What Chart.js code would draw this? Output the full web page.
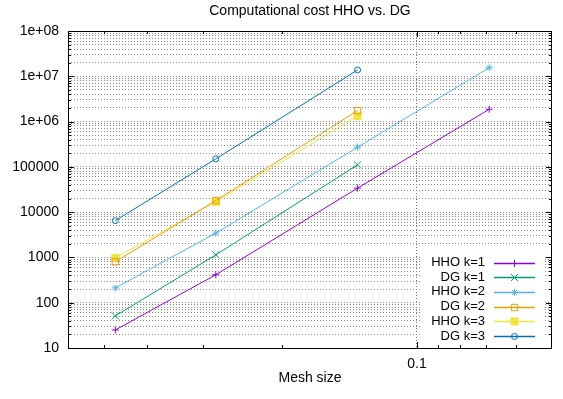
<!DOCTYPE html>
<html>
<head>
<meta charset="utf-8">
<title>Computational cost HHO vs. DG</title>
<script src="https://cdn.jsdelivr.net/npm/chart.js@4.4.1/dist/chart.umd.min.js"></script>
<style>
  html, body { margin: 0; padding: 0; background: #fff; }
  #wrap { width: 563px; height: 399px; }
</style>
</head>
<body>
<div id="wrap"><canvas id="cost" width="563" height="399"></canvas></div>
<script>
// mesh sizes (x) and cost for each method (y)
const meshSizes = [0.02125, 0.0356, 0.0737, 0.1449];
const hhoK1 = [25, 414, 33900, 1870000];
const dgK1 = [51, 1140, 110700];
const hhoK2 = [212, 3440, 272000, 15500000];
const dgK2 = [800, 18000, 1750000];
const hhoK3 = [980, 17000, 1330000];
const dgK3 = [6500, 150000, 13800000];

const seriesLabels = ['HHO k=1', 'DG k=1', 'HHO k=2', 'DG k=2', 'HHO k=3', 'DG k=3'];
const seriesValues = [hhoK1, dgK1, hhoK2, dgK2, hhoK3, dgK3];

// ticks (gnuplot style: only 0.1 is labelled on x)
const xTickValues = [1/50, 1/40, 1/30, 1/20, 0.1, 1/9, 1/8, 1/7, 1/6];
const xTickLabels = ['', '', '', '', '0.1', '', '', '', ''];
const yDecades = [10, 100, 1000, 10000, 100000, 1e6, 1e7, 1e8];
const yDecadeLabels = ['10', '100', '1000', '10000', '100000', '1e+06', '1e+07', '1e+08'];

// look of each series
const seriesColors = ['#9400d3', '#009e73', '#56b4e9', '#e69f00', '#f0e442', '#0072b2'];
const seriesMarkers = [
  { style: 'cross', radius: 3.5, fill: false },
  { style: 'crossRot', radius: 5, fill: false },
  { style: 'star', radius: 3.5, fill: false },
  { style: 'rect', radius: 4.5, fill: false },
  { style: 'rect', radius: 5, fill: true },
  { style: 'circle', radius: 3, fill: false }
];

const FONT = "'Liberation Sans', Arial, sans-serif";
Chart.defaults.font.family = FONT;
Chart.defaults.color = '#000';

// all 1..9 x 10^n ticks for the y grid
const yTickValues = [];
for (let i = 0; i < yDecades.length - 1; i++) {
  for (let s = 1; s <= 9; s++) yTickValues.push(s * yDecades[i]);
}
yTickValues.push(yDecades[yDecades.length - 1]);

function isDecade(v) {
  return yDecades.findIndex(d => Math.abs(v - d) < d * 1e-9);
}

const datasets = seriesLabels.map((label, i) => {
  const m = seriesMarkers[i];
  return {
    label: label,
    data: seriesValues[i].map((v, j) => ({ x: meshSizes[j], y: v })),
    borderColor: seriesColors[i],
    backgroundColor: m.fill ? seriesColors[i] : 'rgba(0,0,0,0)',
    borderWidth: 1,
    pointStyle: m.style,
    pointRadius: m.radius,
    pointHoverRadius: m.radius,
    pointBorderWidth: 1,
    pointBorderColor: seriesColors[i],
    pointBackgroundColor: m.fill ? seriesColors[i] : 'rgba(0,0,0,0)',
    tension: 0,
    fill: false
  };
});

// frame, inward ticks, title and key like gnuplot draws them
const gnuplotBits = {
  id: 'gnuplotBits',
  afterDraw(chart) {
    const ctx = chart.ctx;
    const area = chart.chartArea;
    const xs = chart.scales.x;
    const ys = chart.scales.y;
    ctx.save();

    // inward tick marks on all four sides
    ctx.strokeStyle = '#000';
    ctx.lineWidth = 1;
    ctx.beginPath();
    ys.ticks.forEach(t => {
      const y = Math.round(ys.getPixelForValue(t.value)) + 0.5;
      const len = isDecade(t.value) >= 0 ? 6 : 3;
      ctx.moveTo(area.left, y); ctx.lineTo(area.left + len, y);
      ctx.moveTo(area.right, y); ctx.lineTo(area.right - len, y);
    });
    xs.ticks.forEach(t => {
      const x = Math.round(xs.getPixelForValue(t.value)) + 0.5;
      const len = t.value === 0.1 ? 6 : 3;
      ctx.moveTo(x, area.bottom); ctx.lineTo(x, area.bottom - len);
      ctx.moveTo(x, area.top); ctx.lineTo(x, area.top + len);
    });
    ctx.stroke();

    // border box
    ctx.strokeRect(Math.round(area.left) + 0.5, Math.round(area.top) + 0.5,
      Math.round(area.right - area.left) - 1, Math.round(area.bottom - area.top));

    // title, centred over the plot
    ctx.fillStyle = '#000';
    ctx.font = '14px ' + FONT;
    ctx.textAlign = 'center';
    ctx.textBaseline = 'middle';
    ctx.fillText('Computational cost HHO vs. DG', (area.left + area.right) / 2, 11);

    // key
    ctx.fillStyle = '#fff';
    ctx.fillRect(421, 254, 123, 91);
    ctx.font = '13px ' + FONT;
    ctx.textAlign = 'right';
    chart.data.datasets.forEach((ds, i) => {
      const y = 262.5 + i * 14.7;
      ctx.fillStyle = '#000';
      ctx.fillText(ds.label, 485, y);
      ctx.strokeStyle = ds.borderColor;
      ctx.lineWidth = 1.5;
      ctx.beginPath();
      ctx.moveTo(494, Math.round(y) + 0.5);
      ctx.lineTo(535, Math.round(y) + 0.5);
      ctx.stroke();
      ctx.lineWidth = 1;
      ctx.fillStyle = ds.pointBackgroundColor;
      Chart.helpers.drawPoint(ctx, {
        pointStyle: ds.pointStyle, radius: ds.pointRadius, borderWidth: 1, rotation: 0
      }, 514.5, Math.round(y) + 0.5);
    });
    ctx.restore();
  }
};

new Chart(document.getElementById('cost'), {
  type: 'line',
  data: { datasets: datasets },
  options: {
    responsive: false,
    animation: false,
    layout: { padding: { top: 31, right: 11, left: 0, bottom: 0 } },
    plugins: {
      legend: { display: false },
      title: { display: false },
      tooltip: { enabled: false }
    },
    scales: {
      x: {
        type: 'logarithmic',
        min: 1 / 60,
        max: 0.2,
        afterBuildTicks: s => { s.ticks = xTickValues.map(v => ({ value: v })); },
        afterFit: s => { s.height = 51; },
        ticks: {
          autoSkip: false,
          maxRotation: 0,
          padding: 8,
          font: { size: 14 },
          callback: (v, i) => xTickLabels[xTickValues.indexOf(v)] || ''
        },
        grid: {
          drawTicks: false,
          color: c => (c.tick && c.tick.value === 0.1) ? '#777' : 'rgba(0,0,0,0)',
          lineWidth: 1
        },
        border: { display: false, dash: [1, 2] },
        title: {
          display: true,
          text: 'Mesh size',
          font: { size: 14 },
          padding: { top: 4, bottom: 12 }
        }
      },
      y: {
        type: 'logarithmic',
        min: 10,
        max: 1e8,
        afterBuildTicks: s => { s.ticks = yTickValues.map(v => ({ value: v })); },
        afterFit: s => { s.width = 68; },
        ticks: {
          autoSkip: false,
          padding: 9,
          font: { size: 14 },
          callback: v => {
            const k = isDecade(v);
            return k >= 0 ? yDecadeLabels[k] : '';
          }
        },
        grid: {
          drawTicks: false,
          color: '#888',
          lineWidth: 1
        },
        border: { display: false, dash: [1, 2] }
      }
    }
  },
  plugins: [gnuplotBits]
});
</script>
</body>
</html>
